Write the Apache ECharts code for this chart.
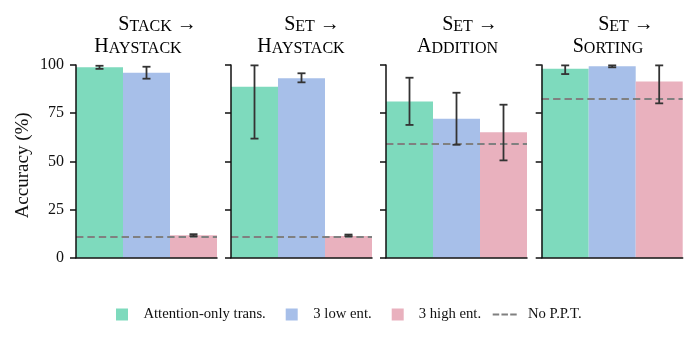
<!DOCTYPE html>
<html><head><meta charset="utf-8">
<script src="https://cdn.jsdelivr.net/npm/echarts@6/dist/echarts.min.js"></script>
<style>html,body{margin:0;padding:0;background:#fff}#c{width:697px;height:350px}</style>
</head><body><div id="c"></div>
<script>
// ---- data ----
const titleTop = [['S','TACK'], ['S','ET'], ['S','ET'], ['S','ET']];
const titleBottom = [['H','AYSTACK'], ['H','AYSTACK'], ['A','DDITION'], ['S','ORTING']];
const seriesNames = ['Attention-only trans.', '3 low ent.', '3 high ent.'];
const baselineName = 'No P.P.T.';
const attnVals  = [98.8, 88.7, 81.0, 98.1];
const attnLow   = [98.0, 61.8, 68.9, 95.3];
const attnHigh  = [99.6, 99.8, 93.4, 99.8];
const lowEntVals = [96.0, 93.1, 72.1, 99.3];
const lowEntLow  = [92.9, 91.0, 58.6, 98.8];
const lowEntHigh = [99.1, 95.7, 85.6, 99.8];
const highEntVals = [11.6, 11.3, 65.1, 91.5];
const highEntLow  = [11.2, 11.2, 50.5, 80.1];
const highEntHigh = [12.2, 12.0, 79.4, 99.8];
const noPPT = [11.1, 11.1, 59.0, 82.7];
const yTicks = [0, 25, 50, 75, 100];
const yLabel = 'Accuracy (%)';

// ---- layout / style ----
const colors = ['#7edabd', '#a7bfe9', '#e9b1be'];
const gridLefts = [76, 231, 386, 541.7];
const gridWidth = 141;
const gridTop = 65, gridHeight = 192.7;
const t1x = [157.5, 312, 470, 626], t2x = [138, 301, 457.5, 608];
const FONT = "'Liberation Serif', 'Times New Roman', serif";
const ink = '#111';

const vals = [attnVals, lowEntVals, highEntVals];
const lows = [attnLow, lowEntLow, highEntLow];
const highs = [attnHigh, lowEntHigh, highEntHigh];

const grids = [], xAxes = [], yAxes = [], series = [], graphics = [];
const rich = {
  b: {fontSize: 20, fontFamily: FONT, color: ink, verticalAlign: 'bottom', lineHeight: 22},
  s: {fontSize: 16, fontFamily: FONT, color: ink, verticalAlign: 'bottom', lineHeight: 22},
  a: {fontSize: 20, fontFamily: FONT, color: ink, verticalAlign: 'bottom', lineHeight: 22}
};

function renderErr(params, api) {
  const i = api.value(0);
  const x = api.coord([i, 0])[0];
  const lo = api.coord([i, api.value(1)])[1];
  const hi = api.coord([i, api.value(2)])[1];
  const w = 4;
  const st = {stroke: '#333', lineWidth: 1.8};
  return {type: 'group', children: [
    {type: 'line', shape: {x1: x, y1: lo, x2: x, y2: hi}, style: st},
    {type: 'line', shape: {x1: x - w, y1: lo, x2: x + w, y2: lo}, style: st},
    {type: 'line', shape: {x1: x - w, y1: hi, x2: x + w, y2: hi}, style: st}
  ]};
}

for (let g = 0; g < 4; g++) {
  grids.push({left: gridLefts[g], top: gridTop, width: gridWidth, height: gridHeight});
  xAxes.push({type: 'category', gridIndex: g, data: ['0', '1', '2'], z: 10,
    axisLine: {lineStyle: {color: ink, width: 1.5}}, axisTick: {show: false}, axisLabel: {show: false}});
  yAxes.push({type: 'value', gridIndex: g, min: yTicks[0], max: yTicks[yTicks.length - 1], interval: yTicks[1] - yTicks[0], z: 10,
    name: g === 0 ? yLabel : '', nameLocation: 'middle', nameGap: 43.5,
    nameTextStyle: {fontSize: 19, fontFamily: FONT, color: ink, padding: [0, 8, 0, 0]},
    axisLine: {show: true, lineStyle: {color: ink, width: 1.5}},
    axisTick: {show: true, length: 6, lineStyle: {color: ink, width: 1.5}},
    splitLine: {show: false},
    axisLabel: {show: g === 0, fontSize: 16, fontFamily: FONT, color: ink, margin: 12}});
  for (let m = 0; m < 3; m++) {
    const d = ['-', '-', '-'];
    d[m] = vals[m][g];
    series.push({type: 'bar', name: seriesNames[m], xAxisIndex: g, yAxisIndex: g, stack: 'p' + g,
      barWidth: '100%', data: d, itemStyle: {color: colors[m]}, z: 2});
  }
  series.push({type: 'line', name: baselineName, xAxisIndex: g, yAxisIndex: g, data: [], color: '#808080',
    symbol: 'none',
    markLine: {silent: true, symbol: ['none', 'none'], label: {show: false}, z: 5,
      lineStyle: {color: '#808080', width: 2.2, type: [7.4, 4]}, data: [{yAxis: noPPT[g]}]}});
  series.push({type: 'custom', name: 'err' + g, xAxisIndex: g, yAxisIndex: g, z: 6,
    encode: {x: 0, y: [1, 2]}, renderItem: renderErr,
    data: [0, 1, 2].map(m => [m, lows[m][g], highs[m][g]])});
  graphics.push({type: 'text', x: t1x[g], y: 35, style: {
    text: '{b|' + titleTop[g][0] + '}{s|' + titleTop[g][1] + '}{a| →}', rich: rich,
    align: 'center', verticalAlign: 'bottom'}});
  graphics.push({type: 'text', x: t2x[g], y: 57, style: {
    text: '{b|' + titleBottom[g][0] + '}{s|' + titleBottom[g][1] + '}', rich: rich,
    align: 'center', verticalAlign: 'bottom'}});
}

const legTxt = {fontSize: 14.7, fontFamily: FONT, color: ink};
const legends = [
  {left: 116, top: 307, data: [seriesNames[0]], pad: 10.4},
  {left: 285.7, top: 307, data: [seriesNames[1]], pad: 10.6},
  {left: 391.7, top: 307, data: [seriesNames[2]], pad: 10}
].map(l => ({left: l.left, top: l.top, itemWidth: 12, itemHeight: 12, icon: 'rect', selectedMode: false,
  data: l.data, padding: 0, textStyle: Object.assign({padding: [0, 0, 0, l.pad]}, legTxt)}));
legends.push({left: 492.7, top: 307, itemWidth: 24, itemHeight: 12, selectedMode: false, padding: 0,
  itemStyle: {color: '#808080'},
  data: [{name: baselineName, icon: 'path://M0,0h6.5v2h-6.5zM8.75,0h6.5v2h-6.5zM17.5,0h6.5v2h-6.5z'}],
  textStyle: Object.assign({padding: [0, 0, 0, 6.3]}, legTxt)});

const chart = echarts.init(document.getElementById('c'), null, {renderer: 'canvas'});
chart.setOption({
  animation: false,
  backgroundColor: '#fff',
  grid: grids, xAxis: xAxes, yAxis: yAxes, series: series,
  legend: legends, graphic: graphics
});
</script></body></html>
